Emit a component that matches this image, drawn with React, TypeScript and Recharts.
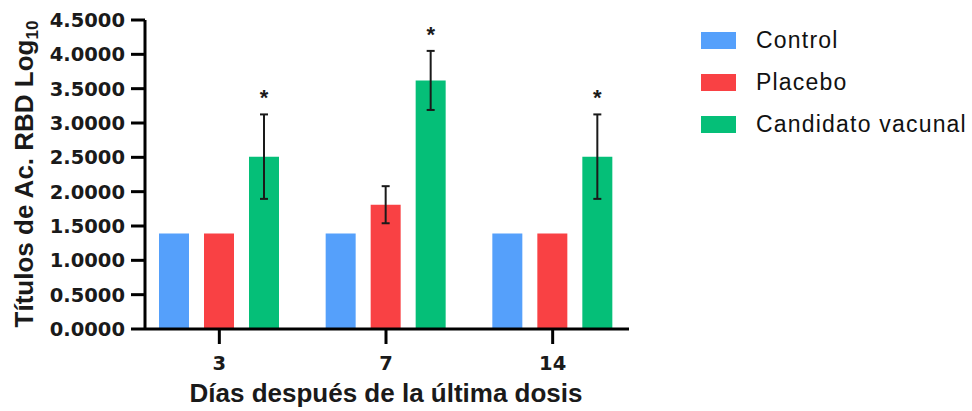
import { BarChart, Bar, XAxis, YAxis, ErrorBar, LabelList } from "recharts";

const days = ["3", "7", "14"];
const control = [1.39, 1.39, 1.39];
const placebo = [1.39, 1.81, 1.39];
const placeboErr: (number | null)[] = [null, 0.27, null];
const vaccine = [2.51, 3.62, 2.51];
const vaccineErr = [0.615, 0.43, 0.615];
const significant = [true, true, true];
const yTicks = [0, 0.5, 1, 1.5, 2, 2.5, 3, 3.5, 4, 4.5];

const COLORS = { control: "#55a0fb", placebo: "#f94144", vaccine: "#05bf78" };
const SERIES = [
  { key: "control", name: "Control", color: COLORS.control },
  { key: "placebo", name: "Placebo", color: COLORS.placebo },
  { key: "vaccine", name: "Candidato vacunal", color: COLORS.vaccine },
];

const W = 972;
const H = 411;
const MARGIN = { top: 20, right: 343, bottom: 0, left: 0 };
const TICK_FONT = "'DejaVu Sans', sans-serif";
const TITLE_FONT = "'Liberation Sans', Arial, sans-serif";

const data = days.map((d, i) => ({
  x: i,
  day: d,
  control: control[i],
  placebo: placebo[i],
  placeboErr: placeboErr[i],
  vaccine: vaccine[i],
  vaccineErr: vaccineErr[i],
  sig: significant[i],
}));

function YTick({ x, y, payload }: any) {
  return (
    <text
      x={x - 4}
      y={y}
      dy="0.36em"
      textAnchor="end"
      fontFamily={TICK_FONT}
      fontWeight="bold"
      fontSize={19.5}
      fill="#1a1a1a"
    >
      {Number(payload.value).toFixed(4)}
    </text>
  );
}

function XTick({ x, y, payload }: any) {
  return (
    <text
      x={x}
      y={y + 24}
      textAnchor="middle"
      fontFamily={TICK_FONT}
      fontWeight="bold"
      fontSize={19.5}
      fill="#1a1a1a"
    >
      {days[payload.value]}
    </text>
  );
}

// asterisk sits a fixed distance above the top of the error bar
function Star(props: any) {
  const { x, y, width, height, index, value } = props;
  if (!significant[index] || !value) return null;
  const errPx = (vaccineErr[index] * height) / value;
  return (
    <text
      x={x + width / 2}
      y={y - errPx - 9}
      textAnchor="middle"
      fontFamily={TITLE_FONT}
      fontWeight="bold"
      fontSize={22}
      fill="#1a1a1a"
    >
      *
    </text>
  );
}

function YTitle() {
  return (
    <text
      transform="translate(33, 174) rotate(-90)"
      textAnchor="middle"
      fontFamily={TITLE_FONT}
      fontWeight="bold"
      fontSize={26}
      fill="#1a1a1a"
    >
      Títulos de Ac. RBD Log
      <tspan fontSize={17} dy={5}>
        10
      </tspan>
    </text>
  );
}

function XTitle() {
  return (
    <text
      x={386}
      y={402}
      textAnchor="middle"
      fontFamily={TITLE_FONT}
      fontWeight="bold"
      fontSize={26}
      fill="#1a1a1a"
    >
      Días después de la última dosis
    </text>
  );
}

function LegendBox() {
  return (
    <div style={{ position: "absolute", left: 701, top: 20 }}>
      {SERIES.map((s) => (
        <div
          key={s.key}
          style={{ display: "flex", alignItems: "center", height: 41.7 }}
        >
          <div style={{ width: 35, height: 17, background: s.color }} />
          <span
            style={{
              marginLeft: 20,
              fontFamily: TITLE_FONT,
              fontSize: 23,
              letterSpacing: 1.2,
              color: "#111",
              whiteSpace: "nowrap",
            }}
          >
            {s.name}
          </span>
        </div>
      ))}
    </div>
  );
}

export default function App() {
  return (
    <div style={{ position: "absolute", left: 0, top: 0, width: W, height: H, background: "#fff" }}>
      <BarChart width={W} height={H} data={data} margin={MARGIN} barGap={15}>
        <XAxis
          dataKey="x"
          type="number"
          domain={[-0.446, 2.458]}
          ticks={[0, 1, 2]}
          allowDataOverflow
          tick={<XTick />}
          tickSize={15}
          axisLine={{ stroke: "#000", strokeWidth: 3 }}
          tickLine={{ stroke: "#000", strokeWidth: 3 }}
          height={82}
          label={{ content: () => <XTitle /> }}
        />
        <YAxis
          type="number"
          domain={[0, 4.5]}
          ticks={yTicks}
          interval={0}
          width={145}
          tick={<YTick />}
          tickSize={14}
          axisLine={{ stroke: "#000", strokeWidth: 3 }}
          tickLine={{ stroke: "#000", strokeWidth: 3 }}
          label={{ content: () => <YTitle /> }}
        />
        <Bar dataKey="control" name="Control" fill={COLORS.control} barSize={30} isAnimationActive={false} />
        <Bar dataKey="placebo" name="Placebo" fill={COLORS.placebo} barSize={30} isAnimationActive={false}>
          <ErrorBar dataKey="placeboErr" width={4} stroke="#1a1a1a" strokeWidth={2} direction="y" />
        </Bar>
        <Bar dataKey="vaccine" name="Candidato vacunal" fill={COLORS.vaccine} barSize={30} isAnimationActive={false}>
          <ErrorBar dataKey="vaccineErr" width={4} stroke="#1a1a1a" strokeWidth={2} direction="y" />
          <LabelList dataKey="vaccine" content={<Star />} />
        </Bar>
      </BarChart>
      <LegendBox />
    </div>
  );
}
